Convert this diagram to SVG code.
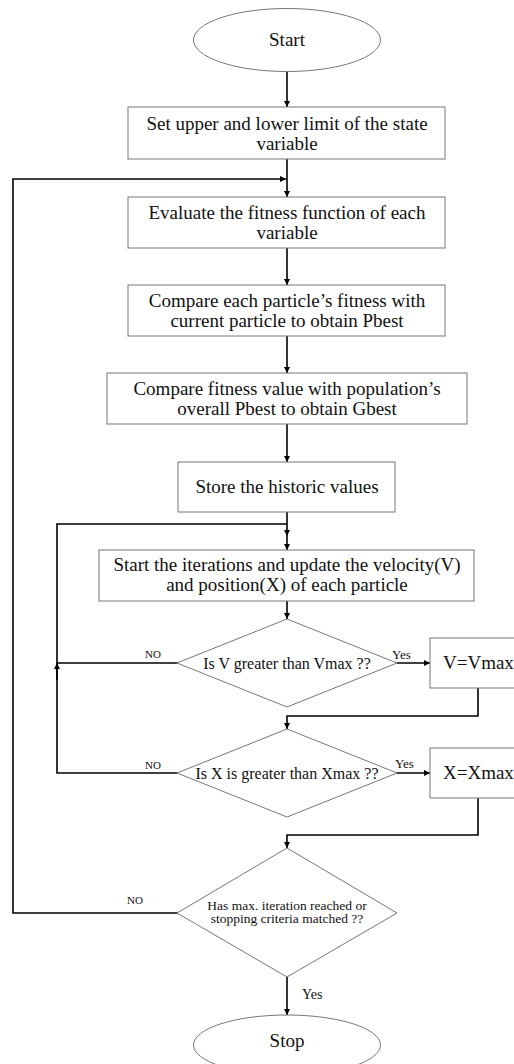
<svg xmlns="http://www.w3.org/2000/svg" width="514" height="1064" viewBox="0 0 514 1064">
<defs>
<style>
.shape{fill:#fff;stroke:#777;stroke-width:1}
.t{font-family:"Liberation Serif","Times New Roman",serif;fill:#111;text-anchor:middle}
.big{font-size:19px}
.mid{font-size:16px}
.sm{font-size:13.5px}
.lab{font-family:"Liberation Serif","Times New Roman",serif;fill:#111;font-size:11px}
.yes{font-family:"Liberation Serif","Times New Roman",serif;fill:#111;font-size:13px}
.c{fill:none;stroke:#000;stroke-width:1.6}
</style>
<marker id="ah" viewBox="0 0 10 10" refX="10" refY="5" markerWidth="6" markerHeight="6" markerUnits="userSpaceOnUse" orient="auto">
<path d="M0,0 L10,5 L0,10 z" fill="#000"/>
</marker>
</defs>
<rect width="514" height="1064" fill="#fff"/>

<g id="connectors">
<line class="c" x1="287" y1="71" x2="287" y2="107" marker-end="url(#ah)"/>
<line class="c" x1="287" y1="159" x2="287" y2="197" marker-end="url(#ah)"/>
<line class="c" x1="287" y1="248" x2="287" y2="285" marker-end="url(#ah)"/>
<line class="c" x1="287" y1="336" x2="287" y2="373" marker-end="url(#ah)"/>
<line class="c" x1="287" y1="424" x2="287" y2="462" marker-end="url(#ah)"/>
<line class="c" x1="287" y1="512" x2="287" y2="536" marker-end="url(#ah)"/>
<line class="c" x1="287" y1="536" x2="287" y2="550" marker-end="url(#ah)"/>
<line class="c" x1="287" y1="601" x2="287" y2="619" marker-end="url(#ah)"/>
<line class="c" x1="397" y1="663" x2="430" y2="663" marker-end="url(#ah)"/>
<polyline class="c" points="478,688 478,716 287,716 287,729" marker-end="url(#ah)"/>
<line class="c" x1="177" y1="663" x2="57" y2="663"/>
<polyline class="c" points="177,773 57,773 57,663"/>
<line class="c" x1="57" y1="680" x2="57" y2="663" marker-end="url(#ah)"/>
<polyline class="c" points="57,663 57,524 287,524"/>
<line class="c" x1="397" y1="773" x2="430" y2="773" marker-end="url(#ah)"/>
<polyline class="c" points="478,798 478,835 287,835 287,848" marker-end="url(#ah)"/>
<polyline class="c" points="177,913 13,913 13,179 286,179" marker-end="url(#ah)"/>
<line class="c" x1="287" y1="977" x2="287" y2="1015" marker-end="url(#ah)"/>
<text class="lab" x="145" y="658">NO</text>
<text class="lab" x="145" y="769">NO</text>
<text class="lab" x="127" y="904">NO</text>
<text class="yes" x="392" y="659">Yes</text>
<text class="yes" x="395" y="768">Yes</text>
<text class="yes" x="302" y="999" style="font-size:14px">Yes</text>
</g>

<g id="start">
<ellipse class="shape" cx="287" cy="40" rx="93.5" ry="31.5"/>
<text class="t big" x="287" y="46">Start</text>
</g>

<g id="setLimits">
<rect class="shape" x="128" y="107" width="317" height="52"/>
<text class="t big" x="287" y="130">Set upper and lower limit of the state</text>
<text class="t big" x="287" y="150">variable</text>
</g>

<g id="evaluate">
<rect class="shape" x="128" y="197" width="317" height="51"/>
<text class="t big" x="287" y="219">Evaluate the fitness function of each</text>
<text class="t big" x="287" y="239">variable</text>
</g>

<g id="pbest">
<rect class="shape" x="128" y="285" width="317" height="51"/>
<text class="t big" x="287" y="307">Compare each particle’s fitness with</text>
<text class="t big" x="287" y="327">current particle to obtain Pbest</text>
</g>

<g id="gbest">
<rect class="shape" x="107" y="373" width="360" height="51"/>
<text class="t big" x="287" y="395">Compare fitness value with population’s</text>
<text class="t big" x="287" y="415">overall Pbest to obtain Gbest</text>
</g>

<g id="store">
<rect class="shape" x="178" y="462" width="217" height="50"/>
<text class="t big" x="287" y="493">Store the historic values</text>
</g>

<g id="iterate">
<rect class="shape" x="99" y="550" width="375" height="51"/>
<text class="t big" x="287" y="571">Start the iterations and update the velocity(V)</text>
<text class="t big" x="287" y="591">and position(X) of each particle</text>
</g>

<g id="checkV">
<polygon class="shape" points="287,619 397,663 287,707 177,663"/>
<text class="t mid" x="287" y="669">Is V greater than Vmax ??</text>
</g>

<g id="setV">
<rect class="shape" x="430" y="638" width="95" height="50"/>
<text class="t big" x="443" y="669" style="text-anchor:start">V=Vmax</text>
</g>

<g id="checkX">
<polygon class="shape" points="287,729 397,773 287,817 177,773"/>
<text class="t mid" x="287" y="779">Is X is greater than Xmax ??</text>
</g>

<g id="setX">
<rect class="shape" x="430" y="748" width="95" height="50"/>
<text class="t big" x="443" y="779" style="text-anchor:start">X=Xmax</text>
</g>

<g id="checkStop">
<polygon class="shape" points="287,848 397,913 287,977 177,913"/>
<text class="t sm" x="287" y="910">Has max. iteration reached or</text>
<text class="t sm" x="287" y="923">stopping criteria matched ??</text>
</g>

<g id="stop">
<ellipse class="shape" cx="287" cy="1045" rx="93.5" ry="30"/>
<text class="t big" x="287" y="1047">Stop</text>
</g>
</svg>
